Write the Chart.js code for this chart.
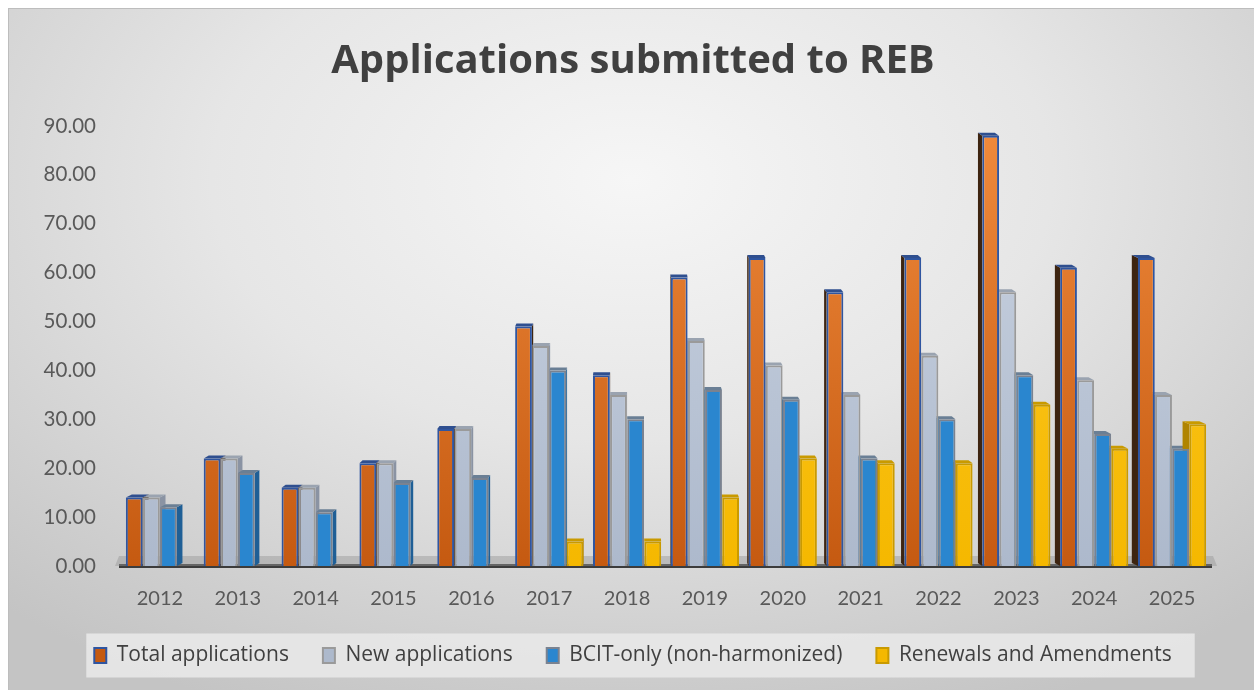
<!DOCTYPE html>
<html>
<head>
<meta charset="utf-8">
<script src="https://cdn.jsdelivr.net/npm/chart.js@4.4.1/dist/chart.umd.min.js"></script>
<style>
  html, body { margin: 0; padding: 0; background: #fff; }
  #wrap {
    position: absolute; left: 8px; top: 8px; width: 1246px; height: 682px;
    background: radial-gradient(ellipse 75% 85% at 50% 25%, #f6f6f6 0%, #e6e6e6 45%, #cdcdcd 85%, #c4c4c4 100%);
    border-top: 1px solid #bdbdbd; border-left: 1px solid #bdbdbd;
    box-sizing: border-box;
  }
  canvas { display: block; }
</style>
</head>
<body>
<div id="wrap"><canvas id="chartBar" width="1245" height="681"></canvas></div>
<script>
  "use strict";

  var years = ["2012", "2013", "2014", "2015", "2016", "2017", "2018", "2019", "2020", "2021", "2022", "2023", "2024", "2025"];
  var totalApps = [14, 22, 16, 21, 28, 49, 39, 59, 63, 56, 63, 88, 61, 63];
  var newApps = [14, 22, 16, 21, 28, 45, 35, 46, 41, 35, 43, 56, 38, 35];
  var bcitOnly = [12, 19, 11, 17, 18, 40, 30, 36, 34, 22, 30, 39, 27, 24];
  var renewals = [null, null, null, null, null, 5, 5, 14, 22, 21, 21, 33, 24, 29];
  var yTicks = [0, 10, 20, 30, 40, 50, 60, 70, 80, 90];

  // front face gradient
  function grad(top, bottom) {
    return function (c) {
      var area = c.chart.chartArea;
      if (!area) return bottom;
      var g = c.chart.ctx.createLinearGradient(0, area.top, 0, area.bottom);
      g.addColorStop(0, top);
      g.addColorStop(1, bottom);
      return g;
    };
  }

  var sideColors = ["#3d2410", "#8a93a3", "#1f5f96", "#b08400"];
  var topColors = ["#2f4f8f", "#9aa3b0", "#6a7f95", "#c99a00"];

  // fake 3D: floor, side and top faces behind the front faces
  var depth3d = {
    id: "depth3d",
    beforeDatasetsDraw: function (chart) {
      var ctx = chart.ctx;
      var area = chart.chartArea;
      ctx.save();
      ctx.fillStyle = "rgba(150,150,150,0.45)";
      ctx.beginPath();
      ctx.moveTo(area.left - 6, area.bottom);
      ctx.lineTo(area.right + 6, area.bottom);
      ctx.lineTo(area.right + 2, area.bottom - 10);
      ctx.lineTo(area.left - 2, area.bottom - 10);
      ctx.closePath();
      ctx.fill();

      chart.data.datasets.forEach(function (ds, di) {
        var meta = chart.getDatasetMeta(di);
        meta.data.forEach(function (bar, i) {
          if (ds.data[i] == null) return;
          var half = bar.width / 2;
          var dx = (chart.width / 2 - bar.x) * 0.012;
          var dy = -3;
          var sx = dx >= 0 ? bar.x + half : bar.x - half;
          ctx.fillStyle = sideColors[di];
          ctx.beginPath();
          ctx.moveTo(sx, bar.y);
          ctx.lineTo(sx + dx, bar.y + dy);
          ctx.lineTo(sx + dx, bar.base + dy);
          ctx.lineTo(sx, bar.base);
          ctx.closePath();
          ctx.fill();
          ctx.fillStyle = topColors[di];
          ctx.beginPath();
          ctx.moveTo(bar.x - half, bar.y);
          ctx.lineTo(bar.x + half, bar.y);
          ctx.lineTo(bar.x + half + dx, bar.y + dy);
          ctx.lineTo(bar.x - half + dx, bar.y + dy);
          ctx.closePath();
          ctx.fill();
        });
      });
      ctx.restore();
    },
  };

  // light box behind the legend
  var legendBox = {
    id: "legendBox",
    beforeDraw: function (chart) {
      var lg = chart.legend;
      if (!lg || !lg.legendHitBoxes || !lg.legendHitBoxes.length) return;
      var boxes = lg.legendHitBoxes;
      var first = boxes[0];
      var last = boxes[boxes.length - 1];
      var ctx = chart.ctx;
      ctx.save();
      ctx.fillStyle = "rgba(232,232,232,0.9)";
      ctx.fillRect(first.left - 8, first.top + first.height / 2 - 22, last.left + last.width - first.left + 31, 44);
      ctx.restore();
    },
  };

  var ctx = document.getElementById("chartBar");
  var myChart = new Chart(ctx, {
    type: "bar",
    data: {
      labels: years,
      datasets: [
        {
          label: "Total applications",
          backgroundColor: grad("#f08a3c", "#c55a11"),
          borderColor: "#2f55a0",
          borderWidth: 2,
          data: totalApps,
        },
        {
          label: "New applications",
          backgroundColor: grad("#cbd4e2", "#adb9cc"),
          borderColor: "#9a9a9a",
          borderWidth: 2,
          data: newApps,
        },
        {
          label: "BCIT-only (non-harmonized)",
          backgroundColor: "#2a86cf",
          borderColor: "#7a8290",
          borderWidth: 2,
          data: bcitOnly,
        },
        {
          label: "Renewals and Amendments",
          backgroundColor: grad("#fdca2a", "#f5b800"),
          borderColor: "#c99a00",
          borderWidth: 2,
          data: renewals,
        },
      ],
    },
    plugins: [legendBox, depth3d],
    options: {
      responsive: false,
      animation: false,
      layout: {
        padding: { left: 3, right: 0, top: 0, bottom: 14 },
      },
      datasets: {
        bar: {
          categoryPercentage: 0.88,
          barPercentage: 0.98,
        },
      },
      plugins: {
        title: {
          display: true,
          text: "Applications submitted to REB",
          color: "#404040",
          font: { family: "Open Sans", size: 40, weight: "bold" },
          padding: { top: 29, bottom: 40 },
        },
        legend: {
          position: "bottom",
          labels: {
            color: "#404040",
            font: { family: "Open Sans", size: 21 },
            boxWidth: 12,
            boxHeight: 15,
            padding: 13,
            generateLabels: function (chart) {
              var items = Chart.defaults.plugins.legend.labels.generateLabels(chart);
              items.forEach(function (it, i) {
                if (i < items.length - 1) it.text = it.text + "\u2003";
              });
              return items;
            },
          },
        },
        tooltip: { enabled: false },
      },
      scales: {
        x: {
          grid: { display: false, drawTicks: false },
          border: { display: true, color: "#3c3c3c", width: 4 },
          ticks: {
            color: "#595959",
            font: { family: "Lato", size: 20 },
            padding: 21,
          },
        },
        y: {
          min: 0,
          max: 90,
          afterBuildTicks: function (axis) {
            axis.ticks = yTicks.map(function (v) { return { value: v }; });
          },
          afterFit: function (axis) {
            axis.width = 109;
          },
          grid: { display: false, drawTicks: false },
          border: { display: false },
          ticks: {
            color: "#595959",
            font: { family: "Lato", size: 20.5 },
            padding: 25,
            callback: function (v) { return Number(v).toFixed(2); },
          },
        },
        // empty right-hand axis, only reserves space on the right
        yRight: {
          position: "right",
          display: true,
          min: 0,
          max: 1,
          afterFit: function (axis) {
            axis.width = 43;
          },
          grid: { display: false, drawTicks: false },
          border: { display: false },
          ticks: { display: false },
        },
      },
    },
  });
</script>
</body>
</html>
